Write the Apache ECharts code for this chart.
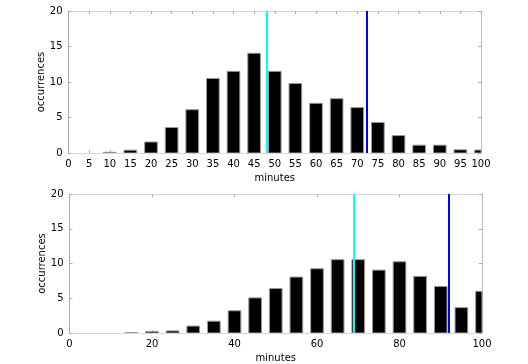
<!DOCTYPE html>
<html>
<head>
<meta charset="utf-8">
<script src="https://cdn.jsdelivr.net/npm/echarts@6/dist/echarts.min.js"></script>
<style>html,body{margin:0;padding:0;background:#fff}#c{width:528px;height:364px}</style>
</head>
<body>
<div id="c"></div>
<script>
var minutes = [0,5,10,15,20,25,30,35,40,45,50,55,60,65,70,75,80,85,90,95,100];
var topCounts = [0,0,0.1,0.4,1.55,3.6,6.1,10.5,11.5,14.05,11.5,9.8,7.0,7.65,6.4,4.3,2.45,1.1,1.1,0.45,0.42];
var bottomCounts = [0,0,0,0.05,0.2,0.3,1.0,1.7,3.2,5.05,6.4,8.05,9.25,10.55,10.55,9.05,10.25,8.15,6.7,3.65,6.0];
var topMarkers = {cyan: 48, blue: 72.4};
var bottomMarkers = {cyan: 69, blue: 92};
var topXInterval = 5;
var bottomXInterval = 20;
var yTicks = 5;
var barSpan = 3.07; // bar width in minutes

function pairs(vals){
  var out = [];
  for (var i = 0; i < minutes.length; i++) if (vals[i] > 0) out.push([minutes[i], vals[i]]);
  return out;
}
var font = {fontFamily: 'DejaVu Sans', fontSize: 10, color: '#000'};
function xAx(grid, interval, pos){
  var main = pos === 'bottom';
  return {
    type: 'value', gridIndex: grid, position: pos, min: 0, max: 100, interval: interval,
    axisLine: {show: true, onZero: false, lineStyle: {color: '#d8d8d8', width: 1}},
    axisTick: {show: true, inside: true, length: 3, lineStyle: {color: '#aaa'}},
    axisLabel: main ? Object.assign({show: true, margin: 6}, font) : {show: false},
    splitLine: {show: false},
    name: main ? 'minutes' : '', nameLocation: 'middle', nameGap: 20, nameMoveOverlap: false,
    nameTextStyle: font
  };
}
function yAx(grid, pos){
  var main = pos === 'left';
  return {
    type: 'value', gridIndex: grid, position: pos, min: 0, max: 20, interval: yTicks,
    axisLine: {show: true, onZero: false, lineStyle: {color: main ? '#aaa' : '#bbb', width: 1}},
    axisTick: {show: true, inside: true, length: 3, lineStyle: {color: '#aaa'}},
    axisLabel: main ? Object.assign({show: true, margin: 6}, font) : {show: false},
    splitLine: {show: false},
    name: main ? 'occurrences' : '', nameLocation: 'middle', nameGap: 22, nameMoveOverlap: false,
    nameTextStyle: font
  };
}
function renderBar(params, api){
  var x = api.value(0), y = api.value(1);
  var p0 = api.coord([x - barSpan / 2, y]);
  var p1 = api.coord([x + barSpan / 2, 0]);
  var cs = params.coordSys;
  var rect = echarts.graphic.clipRectByRect(
    {x: p0[0], y: p0[1], width: p1[0] - p0[0], height: p1[1] - p0[1]},
    {x: cs.x, y: cs.y, width: cs.width, height: cs.height});
  if (!rect) return;
  return {type: 'rect', shape: rect, style: {fill: '#000', stroke: '#999', lineWidth: 1}};
}
function bars(xi, yi, vals, mk){
  return {
    type: 'custom', xAxisIndex: xi, yAxisIndex: yi, data: pairs(vals),
    renderItem: renderBar, clip: true, silent: true,
    encode: {x: 0, y: 1},
    markLine: {
      silent: true, symbol: ['none','none'], label: {show: false}, animation: false,
      data: [
        {xAxis: mk.cyan, lineStyle: {color: '#00ffff', width: 2, type: 'solid'}},
        {xAxis: mk.blue, lineStyle: {color: '#0000ff', width: 2, type: 'solid'}}
      ]
    }
  };
}
var chart = echarts.init(document.getElementById('c'));
chart.setOption({
  animation: false,
  grid: [
    {left: 68.5, right: 47, top: 11, height: 142},
    {left: 69.5, right: 46, top: 194, height: 140}
  ],
  xAxis: [xAx(0, topXInterval, 'bottom'), xAx(0, topXInterval, 'top'), xAx(1, bottomXInterval, 'bottom'), xAx(1, bottomXInterval, 'top')],
  yAxis: [yAx(0, 'left'), yAx(0, 'right'), yAx(1, 'left'), yAx(1, 'right')],
  series: [bars(0, 0, topCounts, topMarkers), bars(2, 2, bottomCounts, bottomMarkers)]
});
</script>
</body>
</html>
